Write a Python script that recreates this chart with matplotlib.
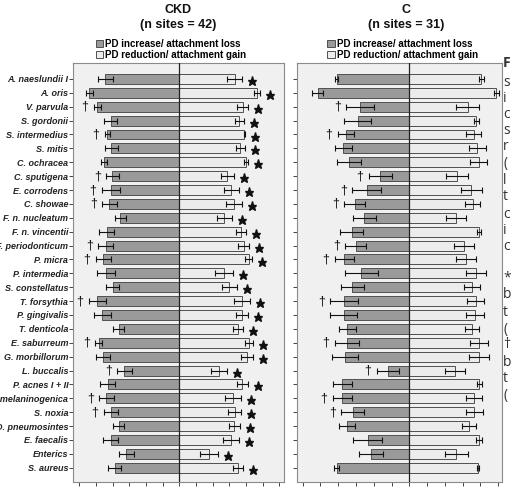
import numpy as np
import matplotlib
matplotlib.use("Agg")
import matplotlib.pyplot as plt

# ---------------------------------------------------------------------------
# Data (arbitrary x units, ticks at integer steps)
# ---------------------------------------------------------------------------
SPECIES = [
    "A. naeslundii I", "A. oris", "V. parvula", "S. gordonii", "S. intermedius",
    "S. mitis", "C. ochracea", "C. sputigena", "E. corrodens", "C. showae",
    "F. n. nucleatum", "F. n. vincentii", "F. periodonticum", "P. micra",
    "P. intermedia", "S. constellatus", "T. forsythia", "P. gingivalis",
    "T. denticola", "E. saburreum", "G. morbillorum", "L. buccalis",
    "P. acnes I + II", "P. melaninogenica", "S. noxia", "D. pneumosintes",
    "E. faecalis", "Enterics", "S. aureus",
]

# CKD group
ckd_loss = [4.44, 5.40, 4.92, 4.12, 4.34, 4.08, 4.52, 4.02, 4.12, 4.20,
            3.54, 4.36, 4.42, 4.56, 4.40, 4.00, 4.92, 4.62, 3.64, 4.84,
            4.58, 3.30, 4.30, 4.38, 4.12, 3.64, 4.12, 3.18, 3.88]
ckd_loss_err = [0.44, 0.20, 0.23, 0.40, 0.15, 0.37, 0.17, 0.40, 0.55, 0.45,
                0.32, 0.45, 0.45, 0.47, 0.53, 0.40, 0.53, 0.50, 0.33, 0.20,
                0.44, 0.44, 0.46, 0.44, 0.43, 0.33, 0.45, 0.43, 0.39]
ckd_gain = [3.32, 4.66, 3.80, 3.58, 3.90, 3.64, 4.00, 2.88, 3.10, 3.26,
            2.70, 3.70, 3.86, 4.16, 2.66, 2.98, 3.76, 3.74, 3.50, 4.16,
            4.06, 2.38, 3.78, 3.22, 3.32, 3.30, 3.12, 1.76, 3.54]
ckd_gain_err = [0.45, 0.18, 0.33, 0.27, 0.05, 0.27, 0.13, 0.40, 0.45, 0.48,
                0.47, 0.30, 0.34, 0.20, 0.55, 0.45, 0.47, 0.37, 0.30, 0.24,
                0.38, 0.49, 0.31, 0.50, 0.39, 0.33, 0.48, 0.54, 0.30]

# C group
c_loss = [4.09, 5.16, 2.78, 2.91, 3.58, 3.71, 3.38, 1.63, 2.40, 3.08,
          2.53, 3.25, 3.02, 3.66, 2.70, 3.21, 3.66, 3.70, 3.49, 3.51,
          3.60, 1.22, 3.77, 3.77, 3.19, 3.49, 2.35, 2.14, 4.09]
c_loss_err = [0.10, 0.33, 0.77, 0.75, 0.46, 0.50, 0.67, 0.65, 0.83, 0.60,
              0.65, 0.64, 0.58, 0.53, 0.94, 0.65, 0.79, 0.76, 0.47, 0.70,
              0.73, 0.62, 0.52, 0.54, 0.65, 0.46, 0.80, 0.68, 0.16]
c_gain = [4.05, 4.90, 3.28, 3.77, 3.62, 3.81, 3.90, 2.68, 3.49, 3.56,
          2.63, 3.92, 3.06, 3.17, 3.75, 3.53, 3.73, 3.70, 3.51, 3.92,
          3.92, 2.55, 3.94, 3.64, 3.66, 3.36, 3.92, 2.65, 3.86]
c_gain_err = [0.13, 0.14, 0.63, 0.13, 0.42, 0.48, 0.48, 0.62, 0.61, 0.43,
              0.58, 0.10, 0.55, 0.56, 0.54, 0.43, 0.49, 0.51, 0.40, 0.50,
              0.54, 0.56, 0.13, 0.47, 0.48, 0.40, 0.17, 0.62, 0.07]

# markers: dagger = significant difference between groups, star = within CKD
DAGGER = [0, 0, 1, 0, 1, 0, 0, 1, 1, 1, 0, 0, 1, 1, 0, 0, 1, 0, 0, 1,
          0, 1, 0, 1, 1, 0, 0, 0, 0]
CKD_STAR = [1] * len(SPECIES)

# cropped caption fragments along the right edge (y in pixels)
CAPTION = [("F", 63), ("s", 82), ("i", 98), ("c", 115), ("s", 131), ("r", 147),
           ("(", 163), ("l", 180), ("t", 197), ("c", 214), ("i", 230), ("c", 246),
           ("*", 278), ("b", 295), ("t", 312), ("(", 329), ("\u2020", 345),
           ("b", 362), ("t", 378), ("(", 395)]

W, H = 515, 492
LOSS_C = "#9a9a9a"
GAIN_C = "#ececec"
BG_C = "#f0f0f0"
EDGE_C = "#505050"

plt.rcParams["font.family"] = ["Liberation Sans", "DejaVu Sans"]


def draw_panel(ax, loss, loss_err, gain, gain_err, stars, xlim, xticks):
    y = np.arange(len(SPECIES))
    ax.set_facecolor(BG_C)
    loss = np.asarray(loss)
    gain = np.asarray(gain)
    h_loss = ax.barh(y, -loss, height=0.72, color=LOSS_C, edgecolor=EDGE_C,
                     lw=0.7, zorder=2, label="PD increase/ attachment loss")
    h_gain = ax.barh(y, gain, height=0.72, color=GAIN_C, edgecolor=EDGE_C,
                     lw=0.7, zorder=2, label="PD reduction/ attachment gain")
    ax.errorbar(-loss, y, xerr=loss_err, fmt="none", ecolor="#111111",
                elinewidth=0.8, capsize=2.3, capthick=0.8, zorder=3)
    ax.errorbar(gain, y, xerr=gain_err, fmt="none", ecolor="#111111",
                elinewidth=0.8, capsize=2.3, capthick=0.8, zorder=3)
    ax.axvline(0, color="#222222", lw=0.9, zorder=4)

    for i in range(len(SPECIES)):
        if DAGGER[i]:
            ax.text(-loss[i] - loss_err[i] - 0.3, y[i], "\u2020",
                    ha="right", va="center", fontsize=9,
                    color="#111111")
        if stars is not None and stars[i]:
            ax.plot(gain[i] + gain_err[i] + 0.6, y[i] + 0.15, marker="*",
                    ms=6.5, color="#111111", clip_on=False, zorder=5)

    ax.set_xlim(*xlim)
    ax.set_ylim(len(SPECIES) - 1 + 1.03, -1.15)
    ax.set_xticks(xticks)
    ax.set_xticklabels([])
    ax.set_yticks(y)
    ax.tick_params(axis="both", direction="out", length=2.6, width=0.7,
                   color="#444444", pad=0.8)
    for s in ax.spines.values():
        s.set_color("#8a8a8a")
        s.set_linewidth(0.8)
    return h_loss, h_gain


fig = plt.figure(figsize=(W / 100, H / 100), dpi=100)
ax1 = fig.add_axes([73 / W, 1 - 482 / H, 211 / W, 419 / H])
ax2 = fig.add_axes([297 / W, 1 - 482 / H, 205 / W, 419 / H])

draw_panel(ax1, ckd_loss, ckd_loss_err, ckd_gain, ckd_gain_err, CKD_STAR,
           (-6.38, 6.28), np.arange(-6, 7))
draw_panel(ax2, c_loss, c_loss_err, c_gain, c_gain_err, None,
           (-6.32, 5.21), np.arange(-6, 6))

ax1.set_yticklabels(SPECIES, fontsize=6.5, fontweight="bold", style="italic",
                    color="#222222")
ax2.set_yticklabels([])

for ax, anchor in ((ax1, 0.108), (ax2, 0.148)):
    ax.legend(loc="lower left", bbox_to_anchor=(anchor, 1.008), frameon=False,
              prop={"weight": "bold", "size": 7},
              handlelength=0.75, handleheight=0.75, handletextpad=0.2,
              labelspacing=0.05, borderpad=0, borderaxespad=0)

for cx, name, n in ((178, "CKD", 42), (406, "C", 31)):
    fig.text(cx / W, 1 - 10 / H, name, ha="center", va="center",
             fontsize=9, fontweight="bold", color="#111111")
    fig.text(cx / W, 1 - 25 / H, f"(n sites = {n})", ha="center", va="center",
             fontsize=9, fontweight="bold", color="#111111")

for ch, py in CAPTION:
    fig.text(503 / W, 1 - py / H, ch, ha="left", va="center",
             fontsize=10, family=["Open Sans", "DejaVu Sans"],
             fontweight="bold" if ch == "F" else "normal", color="#333333")

fig.savefig("out.png", dpi=100, facecolor="white")
